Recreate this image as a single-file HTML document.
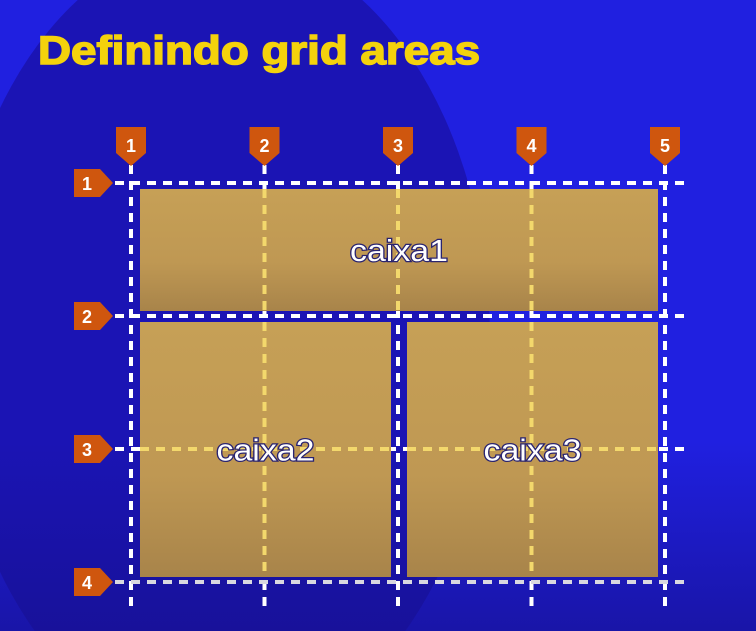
<!DOCTYPE html>
<html><head><meta charset="utf-8"><style>
html,body{margin:0;padding:0;width:756px;height:631px;overflow:hidden;background:#1b14b4}
svg{display:block;position:absolute;left:0;top:0}
</style></head><body>
<svg id="chart" width="756" height="631" viewBox="0 0 756 631" xmlns="http://www.w3.org/2000/svg" overflow="hidden">
<defs>
<linearGradient id="boxg" x1="0" y1="0" x2="0" y2="1"><stop offset="0" stop-color="#c6a056"/><stop offset="0.6" stop-color="#bf9853"/><stop offset="1" stop-color="#a8844a"/></linearGradient>
<linearGradient id="bgfade" x1="0" y1="0" x2="0" y2="1"><stop offset="0.7" stop-color="#16108f" stop-opacity="0"/><stop offset="1" stop-color="#16108f" stop-opacity="0.7"/></linearGradient>
</defs>
<rect width="756" height="631" fill="#2020e0"/>
<ellipse cx="220" cy="340" rx="270" ry="400" fill="#1b14b4"/>
<rect width="756" height="631" fill="url(#bgfade)"/>
<text x="38" y="64" font-family="Liberation Sans, sans-serif" font-weight="bold" font-size="40" fill="#f4d20c" stroke="#f4d20c" stroke-width="1.5" textLength="442" lengthAdjust="spacingAndGlyphs">Definindo grid areas</text>
<g id="lines"></g><g id="boxes"></g><g id="inner"></g><g id="markers"></g>
</svg>
<script>
const colLabels=["1","2","3","4","5"];
const colPos=[0,1,2,3,4];
const rowLabels=["1","2","3","4"];
const rowPos=[0,1,2,3];
const areaNames=["caixa1","caixa2","caixa3"];
const areaCol0=[0,0,2];const areaCol1=[4,2,4];
const areaRow0=[0,1,1];const areaRow1=[1,3,3];
const NS="http://www.w3.org/2000/svg";
const X=c=>131+c*133.5, Y=r=>183+r*133;
function mk(t,a,p){const e=document.createElementNS(NS,t);for(const k in a)e.setAttribute(k,a[k]);p.appendChild(e);return e;}
const L=document.getElementById('lines'),B=document.getElementById('boxes'),I=document.getElementById('inner'),M=document.getElementById('markers');
colPos.forEach((c,i)=>{const l=mk('line',{x1:X(c),x2:X(c),y1:165,y2:607,stroke:'#fff','stroke-width':4,'stroke-dasharray':'9 7'},L);

});
rowPos.forEach((r,i)=>{const l=mk('line',{x1:115,x2:690,y1:Y(r),y2:Y(r),stroke:i==3?'#d8d8e0':'#fff','stroke-width':4,'stroke-dasharray':'9 7'},L);

});
areaNames.forEach((n,i)=>{const x0=X(areaCol0[i])+9,x1=X(areaCol1[i])-7,y0=Y(areaRow0[i])+6,y1=Y(areaRow1[i])-5;
const r=mk('rect',{x:x0,y:y0,width:x1-x0,height:y1-y0,fill:'url(#boxg)'},B);


colPos.forEach(c=>{if(X(c)>x0&&X(c)<x1){const l=mk('line',{x1:X(c),x2:X(c),y1:y0,y2:y1,stroke:'#f3d86c','stroke-width':4,'stroke-dasharray':'9 7'},I);

}});
rowPos.forEach(rr=>{if(Y(rr)>y0&&Y(rr)<y1){const l=mk('line',{x1:x0,x2:x1,y1:Y(rr),y2:Y(rr),stroke:'#f3d86c','stroke-width':4,'stroke-dasharray':'9 7'},I);

}});
const t=mk('text',{x:(x0+x1)/2,y:(y0+y1)/2+11,'text-anchor':'middle','font-family':'Liberation Sans, sans-serif','font-size':31,fill:'#fff',stroke:'#2a2470','stroke-width':2.5,'paint-order':'stroke',textLength:98,lengthAdjust:'spacingAndGlyphs'},I);
t.textContent=n;

});
colPos.forEach((c,i)=>{const x=X(c);const p=mk('polygon',{points:`${x-15},127 ${x+15},127 ${x+15},153 ${x},166 ${x-15},153`,fill:'#cf560e'},M);


const t=mk('text',{x:x,y:152,'text-anchor':'middle','font-family':'Liberation Sans, sans-serif','font-weight':'bold','font-size':18,fill:'#fff'},M);t.textContent=colLabels[i];

});
rowPos.forEach((r,i)=>{const y=Y(r);const p=mk('polygon',{points:`74,${y-14} 100,${y-14} 113,${y} 100,${y+14} 74,${y+14}`,fill:'#cf560e'},M);


const t=mk('text',{x:87,y:y+7,'text-anchor':'middle','font-family':'Liberation Sans, sans-serif','font-weight':'bold','font-size':18,fill:'#fff'},M);t.textContent=rowLabels[i];

});
</script>
</body></html>
